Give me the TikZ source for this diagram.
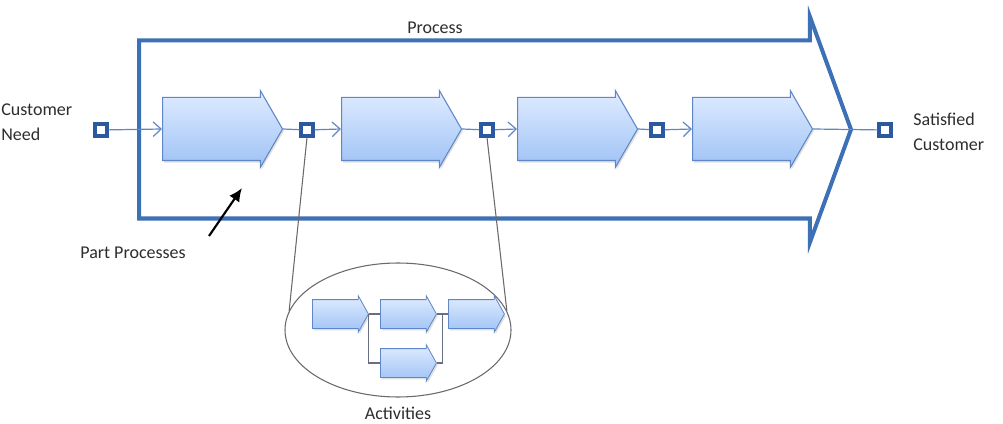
\documentclass[tikz,border=0pt]{standalone}
\usepackage{fontspec}
\setmainfont{Carlito}
\usetikzlibrary{arrows.meta,positioning,calc,shapes.arrows,shapes.geometric,shadows}
\definecolor{procblue}{RGB}{62,112,182}
\definecolor{portblue}{RGB}{44,88,160}
\definecolor{stepedge}{RGB}{95,135,200}
\definecolor{steptop}{RGB}{224,236,255}
\definecolor{stepbot}{RGB}{158,194,245}
\definecolor{linkblue}{RGB}{95,135,200}
\definecolor{zoomgray}{RGB}{105,105,110}
\definecolor{textgray}{RGB}{45,45,45}
\tikzset{
  processarrow/.style={single arrow, draw=procblue, line width=3pt,
    minimum height=534pt, inner xsep=0pt, inner ysep=65.25pt,
    single arrow head extend=18pt, single arrow tip angle=140, anchor=tail},
  stepbox/.style={single arrow, draw=stepedge, line width=0.8pt,
    top color=steptop, bottom color=stepbot,
    minimum height=90pt, inner xsep=0pt, inner ysep=23.25pt,
    single arrow head extend=5.25pt, single arrow tip angle=120, anchor=tail,
    drop shadow={opacity=0.25, shadow xshift=1pt, shadow yshift=-1.5pt}},
  actbox/.style={stepbox, minimum height=42pt, inner ysep=10.5pt,
    single arrow head extend=3pt, single arrow tip angle=122, line width=0.6pt},
  portbox/.style={draw=portblue, line width=2.3pt, fill=white,
    minimum size=9pt, inner sep=0pt},
  linkin/.style={draw=linkblue, line width=0.9pt,
    -{Straight Barb[length=6pt,width=11pt,line width=0.9pt]}},
  linkout/.style={draw=linkblue, line width=0.9pt},
  actlink/.style={draw=zoomgray!80!linkblue, line width=0.8pt},
  zoomline/.style={draw=zoomgray, line width=0.8pt},
  pointer/.style={draw=black, line width=1.6pt, -{Latex[length=10pt,width=9pt]}},
  lbl/.style={font=\fontsize{13.5}{18.5}\selectfont, text=textgray,
    align=left, inner sep=0pt}
}
\begin{document}
\begin{tikzpicture}[x=0.75pt,y=-0.75pt]
  \useasboundingbox (0,0) rectangle (1003,424);

  \node[processarrow] (process) at (137,129.5) {};
  \node[lbl] (proclbl) at (435,28) {Process};

  \node[portbox] (s0) at (101,130) {};
  \node[portbox] (s1) at (307,130) {};
  \node[portbox] (s2) at (487,130) {};
  \node[portbox] (s3) at (657,130) {};
  \node[portbox] (s4) at (885,130) {};

  \node[stepbox] (p1) at (162,129) {};
  \node[stepbox] (p2) at (341,129) {};
  \node[stepbox] (p3) at (517,129) {};
  \node[stepbox] (p4) at (692,129) {};

  \draw[linkin] (s0) -- (p1.tail);
  \draw[linkout] (p1.tip) -- (s1);
  \draw[linkin] (s1) -- (p2.tail);
  \draw[linkout] (p2.tip) -- (s2);
  \draw[linkin] (s2) -- (p3.tail);
  \draw[linkout] (p3.tip) -- (s3);
  \draw[linkin] (s3) -- (p4.tail);
  \draw[linkout] (p4.tip) -- (s4);

  \node[lbl, anchor=west] (needlbl) at (1,122) {Customer\\Need};
  \node[lbl, anchor=west] (donelbl) at (913,132) {Satisfied\\Customer};

  \node[lbl] (partlbl) at (133,253) {Part Processes};
  \coordinate (ptail) at (209,236);
  \coordinate (phead) at (242,188);
  \draw[pointer] (ptail) -- (phead);

  \node[ellipse, draw=zoomgray, line width=0.8pt,
        minimum width=169.5pt, minimum height=100.5pt] (zoom) at (398,330) {};
  \draw[zoomline] (s1.south) -- (zoom.170);
  \draw[zoomline] (s2.south) -- (zoom.10);

  \node[actbox] (a1) at (312,314) {};
  \node[actbox] (a2) at (380,314) {};
  \node[actbox] (a3) at (448,314) {};
  \node[actbox] (a4) at (380,363) {};
  \draw[actlink] (a1.tip) -- (a2.tail);
  \draw[actlink] (a1.tip) |- (a4.tail);
  \draw[actlink] (a2.tip) -- (a3.tail);
  \draw[actlink] (a4.tip) -| ($(a2.tip)!0.5!(a3.tail)$);

  \node[lbl] (actlbl) at (398,413) {Activities};
\end{tikzpicture}
\end{document}
